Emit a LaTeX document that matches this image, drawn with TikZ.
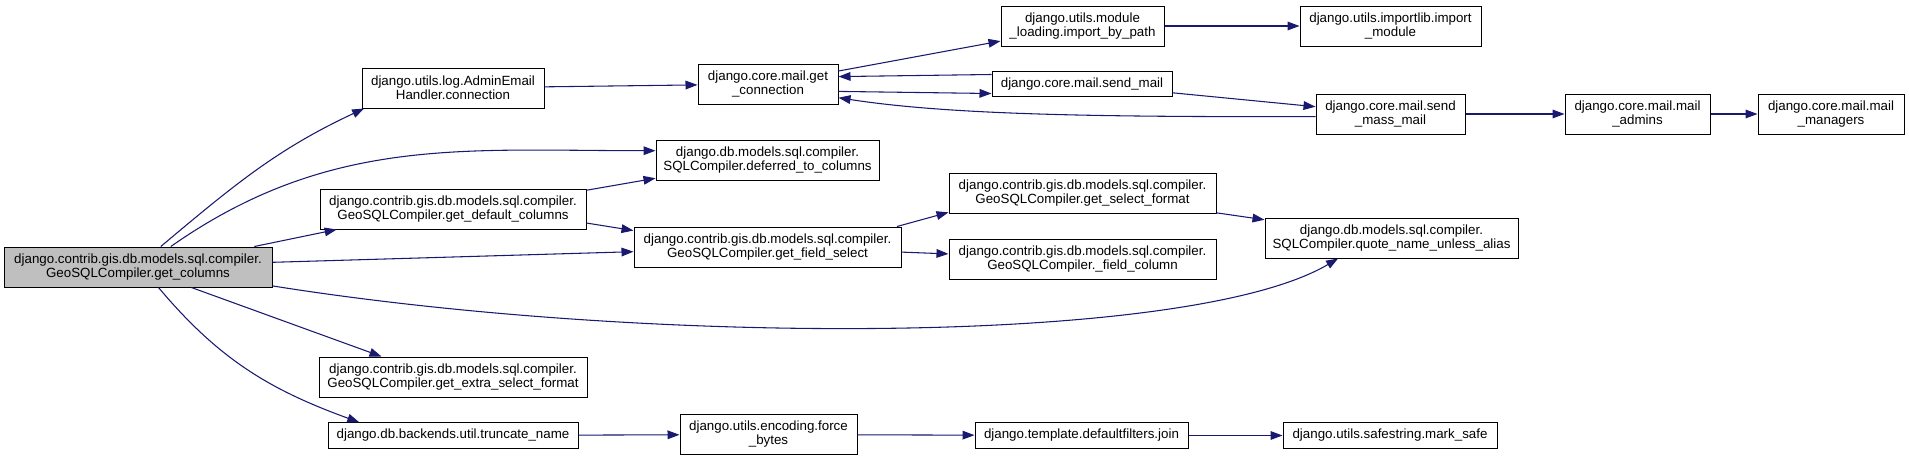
\documentclass[tikz,border=0pt]{standalone}
\usepackage{fontspec}
\setmainfont{Liberation Sans}
\usetikzlibrary{arrows.meta}
\definecolor{dox-navy}{HTML}{191970}
\definecolor{dox-grau}{HTML}{BFBFBF}

\tikzset{
    knoten/.style={draw=black, fill=white, line width=0.75pt, inner sep=0pt,
        align=center, minimum height=30pt, font=\fontsize{10pt}{10.5pt}\selectfont},
    wurzel/.style={knoten, fill=dox-grau},
    einzeilig/.style={minimum height=19pt},
    pfeil/.style={draw=dox-navy, line width=0.8pt, -{Triangle[length=9pt,width=6.5pt]}}
}

\begin{document}
\begin{tikzpicture}[x=0.75pt, y=0.75pt]
    \useasboundingbox (0,0) rectangle (1909,-461);

    % Wurzel des Aufrufgraphen
    \node[wurzel, minimum width=201pt] (root) at (138,-267)
        {django.contrib.gis.db.models.sql.compiler.\\GeoSQLCompiler.get\_columns};

    % Mail-Zweig oben
    \node[knoten, minimum width=136.5pt] (admin) at (453,-88)
        {django.utils.log.AdminEmail\\Handler.connection};
    \node[knoten, minimum width=105pt] (getconn) at (768,-84)
        {django.core.mail.get\\\_connection};
    \node[knoten, minimum width=122.25pt] (importpath) at (1082.5,-26)
        {django.utils.module\\\_loading.import\_by\_path};
    \node[knoten, minimum width=135.75pt] (importmod) at (1390.5,-26)
        {django.utils.importlib.import\\\_module};
    \node[knoten, einzeilig, minimum width=135pt] (sendmail) at (1082,-84)
        {django.core.mail.send\_mail};
    \node[knoten, minimum width=111.75pt] (massmail) at (1390.5,-114)
        {django.core.mail.send\\\_mass\_mail};
    \node[knoten, minimum width=108.75pt] (admins) at (1637.5,-114)
        {django.core.mail.mail\\\_admins};
    \node[knoten, minimum width=109.5pt] (managers) at (1831,-114)
        {django.core.mail.mail\\\_managers};

    % Compiler-Knoten in der Mitte
    \node[knoten, minimum width=167.25pt] (deferred) at (767.5,-160.5)
        {django.db.models.sql.compiler.\\SQLCompiler.deferred\_to\_columns};
    \node[knoten, minimum width=199.5pt] (defcols) at (453,-209)
        {django.contrib.gis.db.models.sql.compiler.\\GeoSQLCompiler.get\_default\_columns};
    \node[knoten, minimum width=200.25pt] (fieldsel) at (767.5,-247)
        {django.contrib.gis.db.models.sql.compiler.\\GeoSQLCompiler.get\_field\_select};
    \node[knoten, minimum width=200.25pt] (selfmt) at (1082.5,-193.5)
        {django.contrib.gis.db.models.sql.compiler.\\GeoSQLCompiler.get\_select\_format};
    \node[knoten, minimum width=200.25pt] (fieldcol) at (1082.5,-259)
        {django.contrib.gis.db.models.sql.compiler.\\GeoSQLCompiler.\_field\_column};
    \node[knoten, minimum width=189.75pt] (quote) at (1391.5,-238)
        {django.db.models.sql.compiler.\\SQLCompiler.quote\_name\_unless\_alias};
    \node[knoten, minimum width=201pt] (extra) at (453,-377)
        {django.contrib.gis.db.models.sql.compiler.\\GeoSQLCompiler.get\_extra\_select\_format};

    % untere Reihe
    \node[knoten, einzeilig, minimum width=187.5pt] (truncate) at (453,-435.5)
        {django.db.backends.util.truncate\_name};
    \node[knoten, minimum width=132.75pt] (force) at (768.5,-434.5)
        {django.utils.encoding.force\\\_bytes};
    \node[knoten, einzeilig, minimum width=159.75pt] (join) at (1081.5,-435.5)
        {django.template.defaultfilters.join};
    \node[knoten, einzeilig, minimum width=160.5pt] (marksafe) at (1390,-435.5)
        {django.utils.safestring.mark\_safe};

    % gerade Kanten
    \foreach \a/\b in {admin/getconn, getconn/importpath, getconn.-6.5/sendmail.186.3,
        sendmail.174.9/getconn.6.5, sendmail/massmail, importpath/importmod,
        massmail/admins, admins/managers, root.10.3/defcols.190,
        root.2.1/fieldsel.182.1, root.-21/extra.164.3, defcols.8.5/deferred.189,
        defcols.-6.9/fieldsel.173.6, fieldsel.9.3/selfmt.188.3, fieldsel/fieldcol,
        selfmt/quote, truncate/force, force/join, join/marksafe} {
        \draw[pfeil] (\a) -- (\b);
    }

    % gebogene Kanten
    \draw[pfeil] (root.42) to[out=40, in=205] (admin.193.5);
    \draw[pfeil] (root.32) to[out=35, in=180] (deferred.175.6);
    \draw[pfeil] (root.-8) .. controls (650,-346) and (1190,-346) .. (quote.201.2);
    \draw[pfeil] (root.-45) to[out=-50, in=160] (truncate.172.7);
    \draw[pfeil] (massmail.182.3) .. controls (1100,-117) and (950,-115) .. (getconn.-11.3);
\end{tikzpicture}
\end{document}
